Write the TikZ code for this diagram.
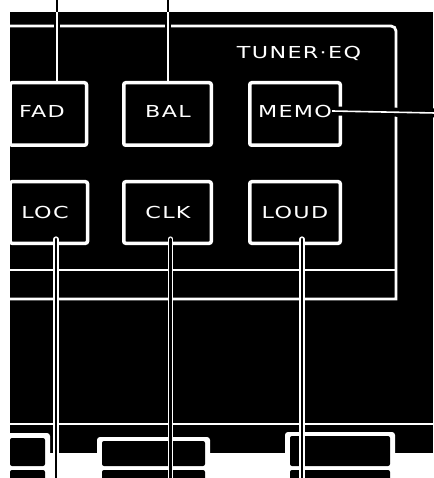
\documentclass[tikz,border=0pt]{standalone}
\usepackage{fontspec}
\usetikzlibrary{calc}
\newfontfamily\panelfont[FakeStretch=1.35,LetterSpace=8]{DejaVu Sans}
\begin{document}
\begin{tikzpicture}[x=1pt,y=-1pt,
  panelbox/.style={draw=white, line width=3.5pt, fill=black, rounded corners=2pt, inner sep=0pt},
  lbl/.style={text=white, font=\panelfont\fontsize{16.5}{16.5}\selectfont, inner sep=0pt, anchor=center},
  frameline/.style={draw=white, line width=2.8pt},
  halo/.style={draw=black, line width=6pt},
  widehalo/.style={draw=black, line width=9pt},
  leadw/.style={draw=white, line width=1.6pt},
  leadb/.style={draw=black, line width=2.4pt},
  leadcase/.style={draw=white, line width=5.2pt, line cap=round},
  leadcore/.style={draw=black, line width=2.6pt, line cap=round},
  botframe/.style={fill=white, rounded corners=3pt},
  botkey/.style={fill=black, rounded corners=2pt}
]
\useasboundingbox (0,0) rectangle (433,478);
\fill[white] (0,0) rectangle (433,478);
% main black panel
\fill[black] (10,12) rectangle (433,453);
% frame of the tuner/eq area
\draw[frameline] (8,26) [rounded corners=5pt] -- (396,26) -- (396,285) [sharp corners] -- (396,299) -- (8,299);
\draw[frameline] (8,270) -- (396,270);
\draw[frameline] (8,424) -- (435,424);

% leader coordinates
\coordinate (fadtop) at (57,0);
\coordinate (fadedge) at (57,12);
\coordinate (baltop) at (168,0);
\coordinate (baledge) at (168,12);
\coordinate (memoend) at (435,113);
\coordinate (locbot) at (56,480);
\coordinate (clkbot) at (170.5,480);
\coordinate (loudbot) at (302,480);

% halos of the top leaders (cut the frame line)
\draw[halo] (fadedge) -- (57,81);
\draw[halo] (baledge) -- (168,81);

% upper row of keys
\node[panelbox, minimum width=76.5pt, minimum height=62.5pt] (fad) at (48.25,114) {};
\node[panelbox, minimum width=87.5pt, minimum height=62.5pt] (bal) at (167.5,114) {};
\node[panelbox, minimum width=90.5pt, minimum height=62.5pt] (memo) at (295,114) {};
% lower row of keys
\node[panelbox, minimum width=77.5pt, minimum height=61.5pt] (loc) at (48.75,212.5) {};
\node[panelbox, minimum width=87.5pt, minimum height=61.5pt] (clk) at (167.5,212.5) {};
\node[panelbox, minimum width=90.5pt, minimum height=61.5pt] (loud) at (295,212.5) {};

% labels
\node[lbl] (title) at (299,53) {TUNER·EQ};
\node[lbl] (fadl) at (42,111) {FAD};
\node[lbl] (ball) at (168,111) {BAL};
\node[lbl] (memol) at (295,111) {MEMO};
\node[lbl] (locl) at (45,212) {LOC};
\node[lbl] (clkl) at (168,212) {CLK};
\node[lbl] (loudl) at (295,212) {LOUD};

% top leaders
\draw[leadb] (fadtop) -- (fadedge);
\draw[leadw] (fadedge) -- (fadedge |- fad.north);
\draw[leadb] (baltop) -- (baledge);
\draw[leadw] (baledge) -- (baledge |- bal.north);
% MEMO leader
\draw[widehalo] (memol.east) -- (memoend);
\draw[leadw] (memol.east) -- (memoend);

% bottom keys
\fill[botframe] (5,433) rectangle (50,482);
\fill[botkey] (10,438) rectangle (45,466);
\fill[botkey] (10,470) rectangle (45,482);
\fill[botframe] (97,437) rectangle (210,482);
\fill[botkey] (102,441) rectangle (205,466);
\fill[botkey] (102,470) rectangle (205,482);
\fill[botframe] (285,432) rectangle (395,482);
\fill[botkey] (290,436) rectangle (390,466);
\fill[botkey] (290,470) rectangle (390,482);

% bottom leaders
\draw[leadcase] ($(locbot |- loc.south)+(0,-6)$) -- (locbot);
\draw[leadcore] ($(locbot |- loc.south)+(0,-6)$) -- (locbot);
\draw[leadcase] ($(clkbot |- clk.south)+(0,-6)$) -- (clkbot);
\draw[leadcore] ($(clkbot |- clk.south)+(0,-6)$) -- (clkbot);
\draw[leadcase] ($(loudbot |- loud.south)+(0,-6)$) -- (loudbot);
\draw[leadcore] ($(loudbot |- loud.south)+(0,-6)$) -- (loudbot);
\end{tikzpicture}
\end{document}
